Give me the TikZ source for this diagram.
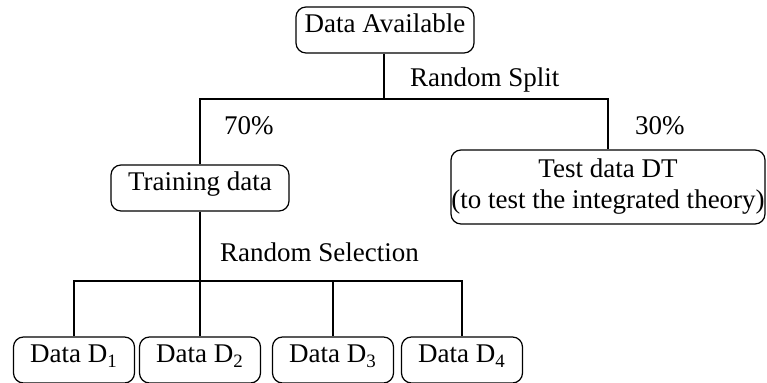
\documentclass[tikz,border=0pt]{standalone}
\usepackage{fontspec}
\setmainfont{Liberation Serif}
\usepackage{tikz}
\usetikzlibrary{positioning}

\begin{document}
\begin{tikzpicture}[
  x=0.5pt, y=-0.5pt,
  every node/.style={font=\fontsize{13.5}{15.5}\selectfont},
  box/.style={rectangle, rounded corners=5pt, draw, line width=0.6pt,
              text height=11pt, text depth=8pt, inner ysep=2pt},
  link/.style={line width=0.6pt}
]
  \useasboundingbox (0,0) rectangle (767,383);

  % top of the tree
  \node[box, minimum width=89pt] (avail) at (385, 30) {Data Available};
  \coordinate (split) at (384, 99);

  \node[box, minimum width=89pt] (train) at (200, 188) {Training data};
  \node[box, minimum width=157pt, minimum height=37pt, inner xsep=0pt,
        align=center, text height=, text depth=] (test)
    at (608, 187) {Test data DT\\(to test the integrated theory)};

  \node[anchor=base west] (splitlbl) at (403, 87) {Random Split};
  \node[anchor=base west] (seventy) at (217, 135) {70\%};
  \node[anchor=base west] (thirty) at (628, 135) {30\%};

  % subsets drawn from the training data
  \coordinate (sel) at (200, 281);
  \node[anchor=base west] (sellbl) at (213, 262) {Random Selection};

  \node[box, minimum width=60.5pt] (d1) at (74, 360) {Data D\textsubscript{1}};
  \node[box, minimum width=60.5pt] (d2) at (200, 360) {Data D\textsubscript{2}};
  \node[box, minimum width=60.5pt] (d3) at (333, 360) {Data D\textsubscript{3}};
  \node[box, minimum width=60.5pt] (d4) at (462, 360) {Data D\textsubscript{4}};

  \draw[link] (avail.south -| split) -- (split);
  \draw[link] (train.north) |- (split) -| (test.north);
  \draw[link] (train.south) -- (sel);
  \draw[link] (d1.north) |- (sel) -| (d4.north);
  \draw[link] (d2.north) -- (sel);
  \draw[link] (d3.north) -- (d3.north |- sel);
\end{tikzpicture}
\end{document}
